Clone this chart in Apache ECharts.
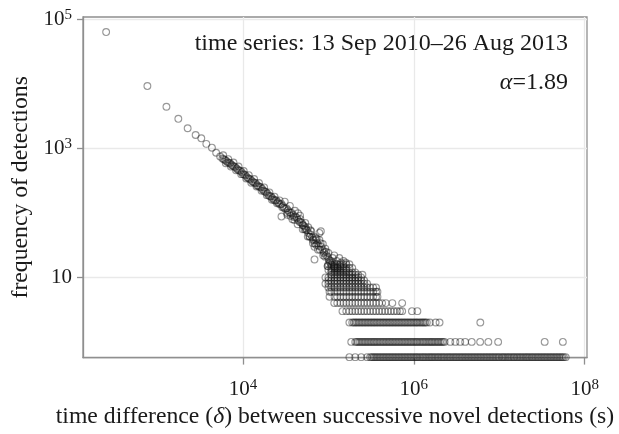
<!DOCTYPE html>
<html><head><meta charset="utf-8">
<script src="https://cdn.jsdelivr.net/npm/echarts@6/dist/echarts.min.js"></script>
<style>html,body{margin:0;padding:0;background:#fff}#c{width:619px;height:434px}</style>
</head><body><div id="c"></div>
<script>
// tick label values
const xTickValues = [1e4, 1e6, 1e8];
const yTickValues = [10, 1e3, 1e5];

// isolated leading points
const headX = [250, 760, 1270, 1750, 2250, 2790, 3250, 3720, 4330, 4850, 5400];
const headY = [64000, 9300, 4440, 2890, 2060, 1620, 1440, 1180, 1030, 860, 750];

// main decaying band (overlapping layers)
const bandX = [5750, 6170, 6600, 7080, 7590, 8130, 8710, 9330, 10000, 10700, 11500, 12300, 13200, 14100, 15100, 16200, 17400, 18600, 20000, 21400, 22900, 24500, 26300, 28200, 30200, 32400, 34700, 37200, 39800, 42700, 45700, 49000, 52500, 56200, 60300, 64600, 69200, 74100, 79400, 85100, 91200, 97700, 104700, 112200, 120200, 128800];
const bandY = [700, 665, 610, 590, 540, 515, 470, 450, 400, 385, 345, 330, 300, 290, 260, 250, 222, 212, 186, 180, 160, 158, 140, 138, 120, 118, 103, 100, 86, 84, 73, 70, 56, 54, 43, 42, 34, 34, 27, 27, 21, 21, 17, 17, 14, 14];
const band2X = [5950, 6380, 6850, 7330, 7850, 8420, 9020, 9660, 10350, 11100, 11900, 12750, 13650, 14600, 15650, 16800, 18000, 19300, 20700, 22100, 23700, 25400, 27200, 29200, 31300, 33500, 35900, 38500, 41200, 44100, 47300, 50700, 54300, 58200, 62400, 66900, 71600, 76700, 82200, 88100, 94400, 101000, 108000, 116000];
const band2Y = [680, 640, 600, 560, 525, 490, 455, 430, 395, 360, 338, 312, 295, 270, 255, 236, 215, 200, 182, 170, 156, 148, 136, 128, 116, 110, 101, 93, 88, 78, 72, 64, 58, 49, 46, 39, 38, 31, 30, 24, 25, 19, 18, 15];
const band3X = [5870, 6290, 6730, 7220, 7740, 8290, 8880, 9520, 10200, 10900, 11700, 12500, 13500, 14400, 15400, 16500, 17700, 19000, 20400, 21800, 23400, 25000, 26800, 28800, 30800, 33000, 35400, 37900, 40600, 43600, 46600, 50000, 53600, 57300, 61500, 65900, 70600, 75600, 81000, 86800];
const band3Y = [784, 592, 683, 525, 605, 458, 526, 400, 448, 343, 386, 294, 336, 258, 291, 222, 249, 189, 208, 160, 179, 141, 157, 123, 150, 94, 129, 80, 108, 67, 91, 56, 70, 43, 54, 34, 42, 27, 34, 22];

// scattered points around the knee
const cloudX = [28200, 44000, 78500, 81600, 68700, 112000, 134000, 50000, 54500, 60000, 68700, 78500, 89800, 98000, 65600, 72000, 94000, 103000, 52600, 36000, 40000, 33000, 47000, 58000, 63000, 73000, 86000, 92000, 100000, 117000, 125000, 140000, 150000, 160000];
const cloudY = [88, 99, 49, 52, 19, 20, 20, 65, 55, 43, 30, 38, 25, 15, 38, 32, 22, 18, 62, 90, 78, 100, 80, 60, 52, 40, 33, 28, 24, 22, 18, 17, 18, 17];

// integer-count rows (x values for each frequency level)
const row16X = [1.00e5, 1.08e5, 1.18e5, 1.27e5, 1.38e5, 1.50e5, 1.62e5, 1.76e5];
const row15X = [9.8e4, 1.08e5, 1.18e5, 1.27e5, 1.38e5, 1.50e5];
const row14X = [1.08e5, 1.18e5, 1.27e5, 1.38e5, 1.50e5, 1.62e5, 1.76e5, 1.90e5];
const row13X = [1.00e5, 1.08e5, 1.18e5, 1.27e5, 1.38e5, 1.50e5, 1.62e5];
const row12X = [1.08e5, 1.18e5, 1.27e5, 1.38e5, 1.50e5, 1.62e5, 1.76e5, 1.90e5, 2.06e5];
const row11X = [1.08e5, 1.18e5, 1.27e5, 1.38e5, 1.50e5, 1.62e5, 1.76e5, 1.90e5, 2.06e5, 2.23e5, 2.50e5];
const row10X = [9.23e4, 1.00e5, 1.08e5, 1.18e5, 1.27e5, 1.38e5, 1.50e5, 1.62e5, 1.76e5, 1.90e5, 2.06e5, 2.23e5, 2.42e5];
const row9X = [1.00e5, 1.08e5, 1.18e5, 1.27e5, 1.38e5, 1.50e5, 1.62e5, 1.76e5, 1.90e5, 2.06e5, 2.23e5, 2.42e5, 2.62e5];
const row8X = [9.23e4, 1.00e5, 1.08e5, 1.18e5, 1.27e5, 1.38e5, 1.50e5, 1.62e5, 1.76e5, 1.90e5, 2.06e5, 2.23e5, 2.42e5, 2.62e5, 2.84e5];
const row7X = [1.00e5, 1.08e5, 1.18e5, 1.27e5, 1.38e5, 1.50e5, 1.62e5, 1.76e5, 1.90e5, 2.06e5, 2.23e5, 2.42e5, 2.62e5, 2.84e5, 3.08e5, 3.34e5, 3.61e5];
const row6X = [1.03e5, 1.08e5, 1.18e5, 1.27e5, 1.38e5, 1.50e5, 1.62e5, 1.76e5, 1.90e5, 2.06e5, 2.23e5, 2.42e5, 2.62e5, 2.84e5, 3.08e5, 3.34e5, 3.61e5, 3.75e5];
const row5X = [1.03e5, 1.18e5, 1.27e5, 1.38e5, 1.50e5, 1.62e5, 1.76e5, 1.90e5, 2.06e5, 2.23e5, 2.42e5, 2.62e5, 2.84e5, 3.08e5, 3.34e5, 3.61e5, 3.75e5];
const row4X = [1.17e5, 1.27e5, 1.38e5, 1.50e5, 1.62e5, 1.76e5, 1.90e5, 2.06e5, 2.23e5, 2.42e5, 2.62e5, 2.84e5, 3.08e5, 3.34e5, 3.61e5, 3.92e5, 4.25e5, 4.70e5, 5.60e5, 7.30e5];
const row3X = [1.46e5, 1.62e5, 1.76e5, 1.90e5, 2.06e5, 2.23e5, 2.42e5, 2.62e5, 2.84e5, 3.08e5, 3.34e5, 3.61e5, 3.92e5, 4.25e5, 4.60e5, 4.99e5, 5.40e5, 5.85e5, 6.34e5, 6.87e5, 7.30e5, 9.50e5, 1.10e6];
const row2X = [1.76e5, 1.90e5, 2.06e5, 2.23e5, 2.42e5, 2.62e5, 2.84e5, 3.08e5, 3.34e5, 3.61e5, 3.92e5, 4.25e5, 4.60e5, 4.99e5, 5.40e5, 5.85e5, 6.34e5, 6.87e5, 7.45e5, 8.07e5, 8.75e5, 9.48e5, 1.03e6, 1.11e6, 1.21e6, 1.31e6, 1.42e6, 1.54e6, 1.80e6, 2.00e6, 6.00e6];
const row2FillX = [1.98e5, 2.14e5, 2.32e5, 2.52e5, 2.73e5, 2.96e5, 3.21e5, 3.47e5, 3.76e5, 4.08e5, 4.42e5, 4.79e5, 5.19e5, 5.62e5, 6.09e5, 6.60e5, 7.15e5, 7.75e5, 8.40e5, 9.11e5, 9.87e5, 1.07e6, 1.16e6, 1.26e6, 1.36e6];
const row1X = [1.85e5, 2.06e5, 2.23e5, 2.42e5, 2.62e5, 2.84e5, 3.08e5, 3.34e5, 3.61e5, 3.92e5, 4.25e5, 4.60e5, 4.99e5, 5.40e5, 5.85e5, 6.34e5, 6.87e5, 7.45e5, 8.07e5, 8.75e5, 9.48e5, 1.03e6, 1.11e6, 1.21e6, 1.31e6, 1.42e6, 1.54e6, 1.66e6, 1.80e6, 1.95e6, 2.12e6, 2.29e6, 2.67e6, 3.06e6, 3.49e6, 3.99e6, 4.76e6, 5.97e6, 7.45e6, 9.70e6, 3.40e7, 5.55e7];
const row1FillX = [2.14e5, 2.32e5, 2.52e5, 2.73e5, 2.96e5, 3.21e5, 3.47e5, 3.76e5, 4.08e5, 4.42e5, 4.79e5, 5.19e5, 5.62e5, 6.09e5, 6.60e5, 7.15e5, 7.75e5, 8.40e5, 9.11e5, 9.87e5, 1.07e6, 1.16e6, 1.26e6, 1.36e6, 1.48e6, 1.60e6, 1.73e6, 1.88e6, 2.03e6, 2.20e6];
// bottom row drawn on the axis floor
const zeroRowX = [1.76e5, 2.06e5, 2.42e5, 2.84e5, 3.08e5, 3.34e5, 3.61e5, 3.92e5, 4.25e5, 4.60e5, 4.99e5, 5.40e5, 5.85e5, 6.34e5, 6.87e5, 7.45e5, 8.07e5, 8.75e5, 9.48e5, 1.03e6, 1.11e6, 1.21e6, 1.31e6, 1.42e6, 1.54e6, 1.66e6, 1.80e6, 1.95e6, 2.12e6, 2.29e6, 2.49e6, 2.69e6, 2.92e6, 3.16e6, 3.43e6, 3.71e6, 4.02e6, 4.36e6, 4.73e6, 5.12e6, 5.55e6, 6.01e6, 6.52e6, 7.06e6, 7.65e6, 8.29e6, 8.98e6, 9.74e6, 1.06e7, 1.14e7, 1.24e7, 1.34e7, 1.46e7, 1.58e7, 1.71e7, 1.85e7, 2.01e7, 2.17e7, 2.36e7, 2.55e7, 2.77e7, 3.00e7, 3.25e7, 3.52e7, 3.82e7, 4.13e7, 4.48e7, 4.85e7, 5.26e7, 5.70e7, 6.00e7];
const zeroRowFillX = [3.21e5, 3.47e5, 3.76e5, 4.08e5, 4.42e5, 4.79e5, 5.19e5, 5.62e5, 6.09e5, 6.60e5, 7.15e5, 7.75e5, 8.40e5, 9.11e5, 9.87e5, 1.07e6, 1.16e6, 1.26e6, 1.36e6, 1.48e6, 1.60e6, 1.73e6, 1.88e6, 2.03e6, 2.20e6, 2.39e6, 2.59e6, 2.80e6, 3.04e6, 3.29e6, 3.57e6, 3.87e6, 4.19e6, 4.54e6, 4.92e6, 5.33e6, 5.78e6, 6.26e6, 6.79e6, 7.35e6, 7.97e6, 8.63e6, 9.35e6, 1.01e7, 1.10e7, 1.19e7, 1.29e7, 1.40e7, 1.51e7, 1.64e7, 1.78e7, 1.93e7, 2.09e7, 2.26e7, 2.45e7, 2.66e7, 2.88e7, 3.12e7, 3.38e7, 3.66e7, 3.97e7, 4.30e7, 4.66e7, 5.05e7, 5.47e7];
const zeroRowY = 0.58;

function pairs(xs, ys) { return xs.map((x, i) => [x, ys[i]]); }
function level(xs, y) { return xs.map(x => [x, y]); }

const data = [].concat(
  pairs(headX, headY), pairs(bandX, bandY), pairs(band2X, band2Y), pairs(band3X, band3Y), pairs(cloudX, cloudY),
  level(row16X, 16), level(row15X, 15), level(row14X, 14), level(row13X, 13), level(row12X, 12),
  level(row11X, 11), level(row10X, 10), level(row9X, 9), level(row8X, 8), level(row7X, 7),
  level(row6X, 6), level(row5X, 5), level(row4X, 4), level(row3X, 3), level(row2X, 2), level(row2FillX, 2),
  level(row1X, 1), level(row1FillX, 1), level(zeroRowX, zeroRowY), level(zeroRowFillX, zeroRowY)
);

const F = '"Liberation Serif", "Times New Roman", serif';
const TXT = '#1a1a1a';
const AX = '#8f8f8f';
function supLabel(v) {
  const e = Math.round(Math.log10(v));
  return e === 1 ? '{b|10}' : '{b|10}{s|' + e + '}';
}
const rich = {
  b: { fontFamily: F, fontSize: 21, color: TXT, lineHeight: 24 },
  s: { fontFamily: F, fontSize: 15, color: TXT, lineHeight: 15, verticalAlign: 'top' }
};

const chart = echarts.init(document.getElementById('c'));
chart.setOption({
  animation: false,
  grid: { left: 83, right: 32, top: 17, bottom: 76, show: true, borderColor: AX, borderWidth: 1.3 },
  xAxis: {
    type: 'log', logBase: 10, min: 134, max: 1.064e8,
    name: 'time difference ({i|δ}) between successive novel detections (s)',
    nameLocation: 'middle', nameGap: 44,
    nameTextStyle: { fontFamily: F, fontSize: 23.7, color: TXT,
      rich: { i: { fontFamily: F, fontStyle: 'italic', fontSize: 23.7, color: TXT } } },
    axisLine: { show: true, lineStyle: { color: AX, width: 1.3 } },
    axisTick: { show: true, customValues: xTickValues, length: 7, lineStyle: { color: AX, width: 1.3 } },
    axisLabel: { customValues: xTickValues, formatter: supLabel, rich: rich, margin: 20 },
    splitLine: { show: true, lineStyle: { color: '#e9e9e9', width: 1.3 } }
  },
  yAxis: {
    type: 'log', logBase: 10, min: 0.571, max: 109600,
    name: 'frequency of detections', nameLocation: 'middle', nameGap: 50,
    nameTextStyle: { fontFamily: F, fontSize: 23.7, color: TXT },
    axisLine: { show: true, lineStyle: { color: AX, width: 1.3 } },
    axisTick: { show: true, customValues: yTickValues, length: 6, lineStyle: { color: AX, width: 1.3 } },
    axisLabel: { customValues: yTickValues, formatter: supLabel, rich: rich, margin: 11 },
    splitLine: { show: true, lineStyle: { color: '#e9e9e9', width: 1.3 } }
  },
  graphic: [
    { type: 'text', right: 51, top: 32, silent: true,
      style: { text: 'time series: 13 Sep 2010–26 Aug 2013', font: '24px ' + F, fill: TXT } },
    { type: 'text', right: 51, top: 71, silent: true,
      style: { text: '{i|α}{n|=1.89}', fill: TXT,
        rich: { i: { fontFamily: F, fontStyle: 'italic', fontSize: 24, fill: TXT },
                n: { fontFamily: F, fontSize: 24, fill: TXT } } } }
  ],
  series: [{
    type: 'scatter', data: data, symbol: 'circle', symbolSize: 6.8, silent: true,
    itemStyle: { color: 'rgba(0,0,0,0)', borderColor: 'rgba(20,20,20,0.55)', borderWidth: 1.1 },
    emphasis: { disabled: true }
  }]
});
</script></body></html>
